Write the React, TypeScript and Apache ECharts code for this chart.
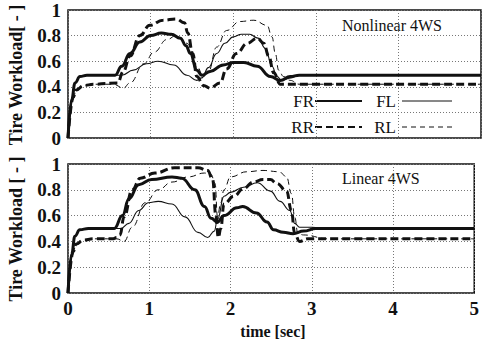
import React, { useEffect, useRef } from "react";
import * as echarts from "echarts";

// time [sec] vs tire workload [-]
const xTicks = [0, 1, 2, 3, 4, 5];
const yTicks = [0, 0.2, 0.4, 0.6, 0.8, 1];

// Nonlinear 4WS (top panel)
const frNonlinear = [
  [0, 0], [0.045, 0.3], [0.085, 0.43], [0.145, 0.48], [0.23, 0.49], [0.57, 0.49], [0.65, 0.56], [0.75, 0.66],
  [0.87, 0.75], [1.0, 0.8], [1.13, 0.82], [1.25, 0.81], [1.36, 0.78], [1.43, 0.72], [1.48, 0.66], [1.56, 0.53],
  [1.62, 0.49], [1.72, 0.52], [1.88, 0.57], [2.0, 0.59], [2.13, 0.59], [2.29, 0.56], [2.45, 0.48], [2.57, 0.45],
  [2.69, 0.48], [2.8, 0.49], [5, 0.49],
];
const flNonlinear = [
  [0, 0], [0.045, 0.3], [0.085, 0.43], [0.145, 0.48], [0.23, 0.49], [0.65, 0.49], [0.79, 0.53], [0.95, 0.58],
  [1.09, 0.6], [1.28, 0.57], [1.44, 0.49], [1.56, 0.45], [1.62, 0.47], [1.7, 0.55], [1.8, 0.66], [1.9, 0.74],
  [2.0, 0.79], [2.1, 0.81], [2.2, 0.81], [2.3, 0.78], [2.39, 0.7], [2.47, 0.56], [2.53, 0.48], [2.59, 0.45],
  [2.7, 0.47], [2.8, 0.49], [5, 0.49],
];
const rrNonlinear = [
  [0, 0], [0.065, 0.32], [0.1, 0.375], [0.19, 0.41], [0.31, 0.42], [0.6, 0.43], [0.67, 0.52], [0.75, 0.64],
  [0.87, 0.8], [0.99, 0.88], [1.15, 0.92], [1.31, 0.93], [1.41, 0.9], [1.45, 0.82], [1.51, 0.66], [1.56, 0.48],
  [1.64, 0.41], [1.72, 0.39], [1.84, 0.43], [1.92, 0.54], [2.04, 0.66], [2.17, 0.74], [2.29, 0.78], [2.37, 0.74],
  [2.43, 0.64], [2.49, 0.51], [2.57, 0.42], [5, 0.42],
];
const rlNonlinear = [
  [0, 0], [0.065, 0.32], [0.1, 0.375], [0.19, 0.41], [0.31, 0.42], [0.55, 0.42], [0.67, 0.39], [0.75, 0.43],
  [0.92, 0.58], [1.04, 0.67], [1.2, 0.77], [1.31, 0.8], [1.44, 0.74], [1.56, 0.56], [1.64, 0.48], [1.7, 0.52],
  [1.8, 0.71], [1.92, 0.84], [2.08, 0.91], [2.25, 0.92], [2.41, 0.88], [2.47, 0.79], [2.51, 0.66], [2.55, 0.53],
  [2.61, 0.48], [2.69, 0.45], [2.8, 0.42], [5, 0.42],
];

// Linear 4WS (bottom panel)
const frLinear = [
  [0, 0], [0.045, 0.3], [0.085, 0.44], [0.145, 0.49], [0.25, 0.5], [0.57, 0.5], [0.67, 0.6], [0.75, 0.73],
  [0.87, 0.84], [1.03, 0.88], [1.28, 0.9], [1.4, 0.89], [1.56, 0.8], [1.68, 0.67], [1.76, 0.58], [1.84, 0.55],
  [1.92, 0.6], [2.08, 0.66], [2.15, 0.67], [2.32, 0.62], [2.45, 0.55], [2.53, 0.49], [2.65, 0.47], [2.77, 0.46],
  [2.9, 0.48], [3.05, 0.5], [5, 0.5],
];
const flLinear = [
  [0, 0], [0.045, 0.3], [0.085, 0.44], [0.145, 0.49], [0.25, 0.5], [0.65, 0.5], [0.75, 0.54], [0.87, 0.64],
  [0.99, 0.7], [1.11, 0.71], [1.28, 0.69], [1.44, 0.59], [1.6, 0.47], [1.72, 0.43], [1.8, 0.48], [1.84, 0.57],
  [1.92, 0.75], [2.0, 0.78], [2.16, 0.82], [2.33, 0.855], [2.49, 0.79], [2.61, 0.71], [2.73, 0.64], [2.79, 0.54],
  [2.85, 0.51], [3.0, 0.51], [3.2, 0.5], [5, 0.5],
];
const rrLinear = [
  [0, 0], [0.065, 0.32], [0.1, 0.38], [0.19, 0.41], [0.31, 0.42], [0.55, 0.42], [0.6, 0.43], [0.64, 0.45],
  [0.69, 0.59], [0.79, 0.8], [0.89, 0.89], [1.07, 0.93], [1.31, 0.97], [1.6, 0.97], [1.72, 0.95], [1.78, 0.88],
  [1.82, 0.6], [1.85, 0.43], [1.88, 0.5], [1.92, 0.69], [2.04, 0.75], [2.16, 0.81], [2.28, 0.86], [2.4, 0.88],
  [2.49, 0.88], [2.57, 0.85], [2.69, 0.79], [2.75, 0.64], [2.79, 0.46], [2.85, 0.4], [2.95, 0.42], [5, 0.42],
];
const rlLinear = [
  [0, 0], [0.065, 0.32], [0.1, 0.38], [0.19, 0.41], [0.31, 0.42], [0.6, 0.42], [0.69, 0.4], [0.79, 0.51],
  [0.95, 0.7], [1.11, 0.8], [1.28, 0.86], [1.48, 0.9], [1.68, 0.93], [1.76, 0.92], [1.81, 0.85], [1.84, 0.59],
  [1.88, 0.7], [1.92, 0.8], [2.0, 0.9], [2.2, 0.94], [2.4, 0.95], [2.6, 0.94], [2.69, 0.9], [2.75, 0.77],
  [2.79, 0.59], [2.83, 0.46], [2.9, 0.45], [3.2, 0.42], [5, 0.42],
];

const panelTitles = ["Nonlinear 4WS", "Linear 4WS"];
const yTitles = ["Tire Workload[ - ]", "Tire Workload [ - ]"];
const xTitle = "time [sec]";
const legendNames = ["FR", "FL", "RR", "RL"];

const FONT = "'Liberation Serif', 'Times New Roman', serif";
const INK = "#111";

const styles: Record<string, { width: number; type: any }> = {
  FR: { width: 3, type: "solid" },
  FL: { width: 1.1, type: "solid" },
  RR: { width: 3, type: [8, 4] },
  RL: { width: 1, type: [6, 4] },
};

export default function App() {
  const ref = useRef<HTMLDivElement>(null);
  useEffect(() => {
    const chart = echarts.init(ref.current!, null, { renderer: "svg" });
    const grids = [
      { left: 68, top: 10, width: 413, height: 128 },
      { left: 68, top: 164, width: 413, height: 129 },
    ];
    const fmt = (v: number) => (v === 0 ? "0" : v === 1 ? "1" : v.toFixed(1));
    const splitLine = { show: true, lineStyle: { color: "#777", type: [1, 2], width: 1 } };
    const mkX = (i: number) => ({
      type: "value",
      gridIndex: i,
      min: xTicks[0],
      max: xTicks[xTicks.length - 1],
      interval: 1,
      axisLine: { show: false },
      axisTick: { show: false },
      splitLine,
      axisLabel: {
        show: i === 1,
        margin: 6,
        color: INK,
        fontFamily: FONT,
        fontWeight: "bold",
        fontSize: 19,
      },
    });
    const mkY = (i: number) => ({
      type: "value",
      gridIndex: i,
      min: yTicks[0],
      max: yTicks[yTicks.length - 1],
      interval: 0.2,
      axisLine: { show: false },
      axisTick: { show: false },
      splitLine,
      axisLabel: {
        margin: 7,
        color: INK,
        fontFamily: FONT,
        fontWeight: "bold",
        fontSize: 19,
        formatter: fmt,
      },
    });
    const panelData = [
      { FR: frNonlinear, FL: flNonlinear, RR: rrNonlinear, RL: rlNonlinear },
      { FR: frLinear, FL: flLinear, RR: rrLinear, RL: rlLinear },
    ];
    const series: any[] = [];
    panelData.forEach((p: any, i) => {
      legendNames.forEach((n) => {
        series.push({
          type: "line",
          name: n + i,
          xAxisIndex: i,
          yAxisIndex: i,
          data: p[n],
          symbol: "none",
          smooth: 0.45,
          smoothMonotone: "x",
          lineStyle: { color: INK, width: styles[n].width, type: styles[n].type },
          z: n === "FR" || n === "RR" ? 3 : 2,
        });
      });
    });

    const legendRows = [
      { y: 101, a: "FR", b: "FL" },
      { y: 127, a: "RR", b: "RL" },
    ];
    const graphic: any[] = [];
    legendRows.forEach((r) => {
      graphic.push({
        type: "text",
        x: 314, y: r.y,
        style: { text: r.a, font: `17px ${FONT}`, fill: INK, textAlign: "right", textVerticalAlign: "middle" },
      });
      graphic.push({
        type: "line",
        shape: { x1: 315, y1: r.y, x2: 362, y2: r.y },
        style: { stroke: INK, lineWidth: 2.2, lineDash: styles[r.a].type === "solid" ? null : [7, 4] },
      });
      graphic.push({
        type: "text",
        x: 396, y: r.y,
        style: { text: r.b, font: `17px ${FONT}`, fill: INK, textAlign: "right", textVerticalAlign: "middle" },
      });
      graphic.push({
        type: "line",
        shape: { x1: 402, y1: r.y, x2: 452, y2: r.y },
        style: { stroke: INK, lineWidth: 1, lineDash: styles[r.b].type === "solid" ? null : [5, 4] },
      });
    });
    graphic.push({
      type: "text", x: 342, y: 25,
      style: { text: panelTitles[0], font: `16px ${FONT}`, fill: INK, textAlign: "left", textVerticalAlign: "middle" },
    });
    graphic.push({
      type: "text", x: 342, y: 178,
      style: { text: panelTitles[1], font: `16px ${FONT}`, fill: INK, textAlign: "left", textVerticalAlign: "middle" },
    });
    graphic.push({
      type: "text", x: 16, y: 75, rotation: Math.PI / 2,
      style: { text: yTitles[0], font: `bold 18px ${FONT}`, fill: INK, textAlign: "center", textVerticalAlign: "middle" },
    });
    graphic.push({
      type: "text", x: 16, y: 229, rotation: Math.PI / 2,
      style: { text: yTitles[1], font: `bold 18px ${FONT}`, fill: INK, textAlign: "center", textVerticalAlign: "middle" },
    });
    graphic.push({
      type: "text", x: 273, y: 331,
      style: { text: xTitle, font: `bold 16px ${FONT}`, fill: INK, textAlign: "center", textVerticalAlign: "middle" },
    });

    chart.setOption({
      animation: false,
      backgroundColor: "#fff",
      grid: grids.map((g) => ({ ...g, show: true, borderColor: INK, borderWidth: 1.5, backgroundColor: "transparent" })),
      xAxis: [mkX(0), mkX(1)],
      yAxis: [mkY(0), mkY(1)],
      series,
      graphic,
    });
    return () => chart.dispose();
  }, []);
  return (
    <div
      ref={ref}
      style={{ position: "fixed", left: 0, top: 0, width: 482, height: 347, background: "#fff" }}
    />
  );
}
